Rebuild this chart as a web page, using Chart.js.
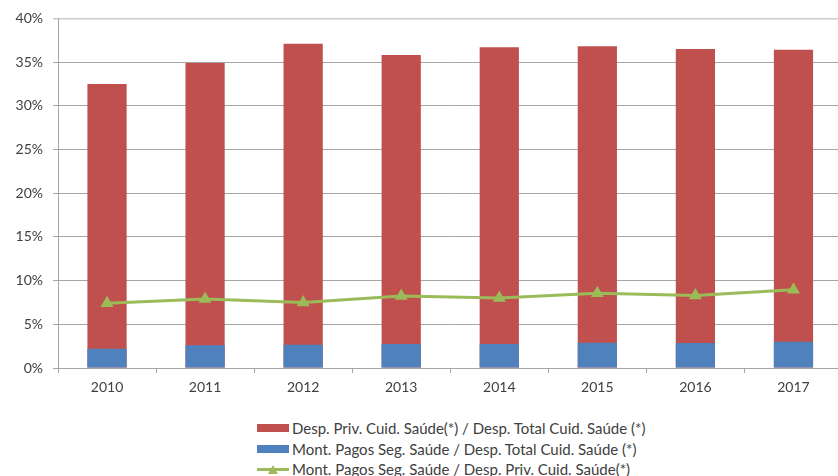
<!DOCTYPE html>
<html>
<head>
<meta charset="utf-8">
<script src="https://cdn.jsdelivr.net/npm/chart.js@4.4.1/dist/chart.umd.min.js"></script>
<style>
  html, body { margin: 0; padding: 0; background: #fff; overflow: hidden; width: 838px; height: 476px; }
  #wrap { position: relative; width: 850px; height: 476px; }
  #legend { position: absolute; left: 257px; top: 418px; font-family: Lato, sans-serif; font-size: 15px; color: #404040; line-height: 20.5px; }
  .item { display: flex; align-items: center; white-space: nowrap; }
  .sw { display: inline-block; width: 32px; height: 8px; margin-right: 3px; }
  .ln { position: relative; display: inline-block; width: 32px; height: 12px; margin-right: 3px; }
  .ln::before { content: ""; position: absolute; left: 0; right: 0; top: 5px; height: 3px; background: #9BBB59; }
  .ln::after { content: ""; position: absolute; left: 11px; top: 2px; border-left: 5px solid transparent; border-right: 5px solid transparent; border-bottom: 9px solid #9BBB59; }
</style>
</head>
<body>
<div id="wrap">
  <canvas id="myChart" width="850" height="400"></canvas>
  <div id="legend"></div>
</div>
<script>
const ctx = document.getElementById('myChart');

// anos
const years = ['2010', '2011', '2012', '2013', '2014', '2015', '2016', '2017'];

// Desp. Priv. Cuid. Saúde(*) / Desp. Total Cuid. Saúde (*)  (%)
const privOverTotal = [32.5, 34.9, 37.1, 35.8, 36.7, 36.8, 36.5, 36.4];

// Mont. Pagos Seg. Saúde / Desp. Total Cuid. Saúde (*)  (%)
const insOverTotal = [2.2, 2.6, 2.65, 2.75, 2.75, 2.9, 2.85, 3.0];

// Mont. Pagos Seg. Saúde / Desp. Priv. Cuid. Saúde(*)  (%)
const insOverPriv = [7.4, 7.9, 7.5, 8.25, 8.0, 8.55, 8.3, 8.95];

const yTicks = [0, 5, 10, 15, 20, 25, 30, 35, 40];

const labels = [
  'Desp. Priv. Cuid. Saúde(*) / Desp. Total Cuid. Saúde (*)',
  'Mont. Pagos Seg. Saúde / Desp. Total Cuid. Saúde (*)',
  'Mont. Pagos Seg. Saúde / Desp. Priv. Cuid. Saúde(*)'
];

const red = '#C0504D', blue = '#4F81BD', green = '#9BBB59';
const tickFont = { family: 'Lato, sans-serif', size: 14 };

const myChart = new Chart(ctx, {
  type: 'bar',
  data: {
    labels: years,
    datasets: [
      {
        label: labels[0],
        data: privOverTotal,
        backgroundColor: red,
        barPercentage: 0.4,
        categoryPercentage: 1,
        order: 2
      },
      {
        label: labels[1],
        data: insOverTotal,
        backgroundColor: blue,
        barPercentage: 0.4,
        categoryPercentage: 1,
        order: 1
      },
      {
        type: 'line',
        label: labels[2],
        data: insOverPriv,
        borderColor: green,
        backgroundColor: green,
        borderWidth: 3,
        pointStyle: 'triangle',
        pointRadius: 7.5,
        pointBorderWidth: 0,
        tension: 0,
        order: 0
      }
    ]
  },
  options: {
    responsive: false,
    animation: false,
    layout: { padding: { top: 15, right: 2, left: 0, bottom: 0 } },
    plugins: { legend: { display: false }, tooltip: { enabled: false } },
    scales: {
      x: {
        stacked: true,
        offset: true,
        grid: { offset: true, drawOnChartArea: false, drawTicks: true, tickLength: 5, color: '#a6a6a6' },
        border: { color: '#a6a6a6' },
        ticks: { color: '#404040', font: tickFont, padding: 6, maxRotation: 0 },
        afterFit: s => { s.height = 32; }
      },
      y: {
        stacked: false,
        min: 0,
        max: 40,
        afterBuildTicks: s => { s.ticks = yTicks.map(v => ({ value: v })); },
        grid: {
          color: c => (c.tick && c.tick.value === 40) ? '#cccccc' : '#a6a6a6',
          lineWidth: c => (c.tick && c.tick.value === 40) ? 1.5 : 1,
          tickLength: 5
        },
        border: { color: '#a6a6a6' },
        ticks: { color: '#404040', font: tickFont, padding: 10, callback: v => v + '%' },
        afterFit: s => { s.width = 58; }
      }
    }
  }
});

// legenda em lista vertical
const legend = document.getElementById('legend');
legend.innerHTML =
  '<div class="item"><span class="sw" style="background:' + red + '"></span>' + labels[0] + '</div>' +
  '<div class="item"><span class="sw" style="background:' + blue + '"></span>' + labels[1] + '</div>' +
  '<div class="item"><span class="ln"></span>' + labels[2] + '</div>';
</script>
</body>
</html>
